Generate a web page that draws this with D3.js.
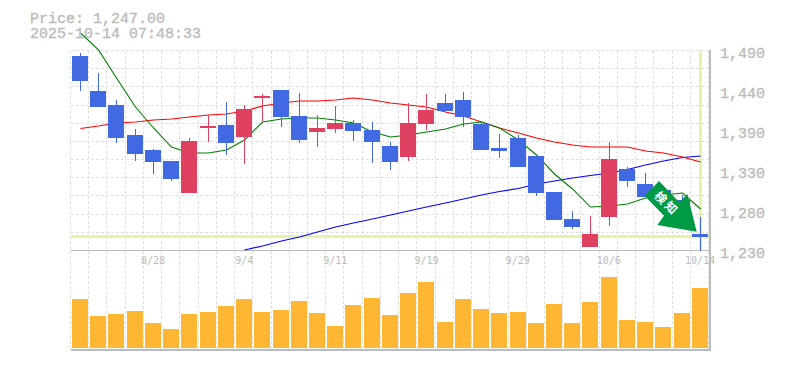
<!DOCTYPE html>
<html>
<head>
<meta charset="utf-8">
<script src="https://cdn.jsdelivr.net/npm/d3@7"></script>
<style>
  html, body { margin: 0; padding: 0; background: #fff; }
  svg { display: block; }
  text { font-family: "Liberation Mono", monospace; fill: #bbb; }
  .heavy { stroke: #bbb; stroke-width: 0.35px; }
</style>
</head>
<body>
<svg id="chart" width="785" height="370"></svg>
<script>
const dates = ["8/22","8/25","8/26","8/27","8/28","8/29","9/1","9/2","9/3","9/4","9/5","9/8","9/9","9/10","9/11","9/12","9/16","9/17","9/18","9/19","9/22","9/24","9/25","9/26","9/29","9/30","10/1","10/2","10/3","10/6","10/7","10/8","10/9","10/10","10/14"];
const dateLabels = ["8/28","9/4","9/11","9/19","9/29","10/6","10/14"];

const opens = [1484,1438,1419,1380,1360,1345,1303,1389,1393,1377,1428,1439,1405,1383,1387,1395,1386,1365,1350,1394,1422,1426,1394,1362,1376,1352,1304,1269,1232,1271,1335,1315,1307,1294,1249];
const highs = [1488,1461,1426,1387,1361,1345,1376,1406,1423,1419,1434,1439,1435,1406,1418,1399,1397,1370,1422,1434,1434,1436,1397,1381,1379,1352,1304,1279,1272,1370,1337,1329,1312,1300,1271];
const lows = [1438,1416,1369,1345,1328,1319,1303,1370,1353,1341,1398,1390,1369,1364,1382,1372,1342,1333,1345,1386,1411,1390,1360,1349,1337,1299,1267,1255,1232,1259,1311,1298,1290,1265,1226];
const closes = [1451,1416,1376,1354,1344,1321,1372,1391,1369,1414,1431,1403,1373,1389,1395,1385,1370,1344,1395,1412,1411,1403,1360,1358,1337,1303,1267,1258,1249,1348,1319,1298,1296,1274,1245];

const maShort = [1514.1,1491.7,1454.7,1416.4,1388.7,1363.6,1355.7,1355.7,1359.7,1372.9,1396.6,1400.6,1401.9,1401.9,1399.3,1395.3,1383.4,1376.8,1379.5,1383.4,1387.4,1394,1396.6,1388.7,1372.9,1353.1,1328,1308.2,1284.4,1285.7,1288.4,1296.3,1300.3,1302.9,1281.8];
const maMid = [1388,1391.3,1395.3,1396.6,1399.3,1400.6,1403.2,1405.9,1407.2,1411.1,1417.7,1421.7,1424.3,1424.3,1425.7,1428.3,1425.7,1421.7,1419,1416.4,1409.8,1404.5,1396.6,1388.7,1382.1,1375.5,1370.2,1366.3,1363.6,1363.6,1363.6,1358.3,1355.7,1350.4,1343.8];
const maLong = [null,null,null,null,null,null,null,null,null,1227.7,1233,1239.5,1244.8,1251.4,1258,1263.3,1268.6,1273.9,1279.1,1284.4,1289.7,1294.9,1300.3,1304.9,1308.8,1314.8,1318.7,1322.7,1326,1329.3,1333.9,1339.9,1345.1,1349.8,1351.7];

const volumes = [49000,32000,34000,37000,25000,19000,34000,36000,42000,49000,36000,38000,47000,35000,22000,43000,50000,33000,55000,66000,26000,49000,39000,35000,36000,25000,44000,25000,46000,71000,28000,26000,21000,35000,60000];

const priceTicks = [1227,1279.8,1332.6,1385.4,1438.2,1491];
const currentPrice = 1247;

const left = 70.5, right = 708.6, plotTop = 50.5, plotBottom = 250.5, volBottom = 348;
const upColor = "#e04060", downColor = "#4169e1", bandColor = "#e4f5aa", gridColor = "#e0e0e0", axisColor = "#bbb";

const svg = d3.select("#chart");
const x = d3.scaleBand().domain(dates).range([left, right]);
const y = d3.scaleLinear().domain([1227, 1491]).range([plotBottom, plotTop]);
const yVol = d3.scaleLinear().domain([0, 98000]).range([volBottom, 250]);

const barX = (d) => Math.round(x(d) + 1.5);
const mid = (d) => barX(d) + 8;

// grid
const grid = svg.append("g").attr("stroke", gridColor).attr("stroke-dasharray", "3,2").attr("shape-rendering", "crispEdges");
grid.selectAll(".v").data(dates).join("line")
  .attr("x1", (d) => Math.floor(x(d)) + 0.5).attr("x2", (d) => Math.floor(x(d)) + 0.5)
  .attr("y1", plotTop).attr("y2", 350);
grid.append("line").attr("x1", right).attr("x2", right).attr("y1", plotTop).attr("y2", 350);
grid.selectAll(".h").data(d3.range(0, 11)).join("line")
  .attr("x1", left).attr("x2", right)
  .attr("y1", (i) => Math.floor(plotTop + (i * 200) / 11) + 0.5)
  .attr("y2", (i) => Math.floor(plotTop + (i * 200) / 11) + 0.5);

// current price / latest date bands
svg.append("rect").attr("x", left).attr("width", 709 - left).attr("y", Math.round(y(currentPrice))).attr("height", 3).attr("fill", bandColor);
svg.append("rect").attr("x", mid("10/14") - 1).attr("width", 3).attr("y", plotTop).attr("height", plotBottom - plotTop).attr("fill", bandColor);

// frame
const frame = svg.append("g").attr("stroke", axisColor).attr("shape-rendering", "crispEdges");
frame.append("line").attr("x1", left).attr("x2", 711).attr("y1", 250.5).attr("y2", 250.5);
frame.append("line").attr("x1", left).attr("x2", 711).attr("y1", 350).attr("y2", 350).attr("stroke-width", 2);
frame.append("line").attr("x1", 710).attr("x2", 710).attr("y1", 50).attr("y2", 351).attr("stroke-width", 2);

// moving averages
const line = d3.line().defined((d) => d[1] != null).x((d) => mid(d[0]) + 0.5).y((d) => y(d[1]));
[[maLong, "#0000ff"], [maMid, "#ff0000"], [maShort, "#008000"]].forEach(([vals, color]) => {
  svg.append("path")
    .attr("d", line(dates.map((d, i) => [d, vals[i]])))
    .attr("fill", "none").attr("stroke", color).attr("stroke-width", 1.1);
});

// candles
const candles = svg.append("g").attr("shape-rendering", "crispEdges");
const cData = dates.map((d, i) => ({ d, o: opens[i], h: highs[i], l: lows[i], c: closes[i] }));
const cColor = (e) => (e.c >= e.o ? upColor : downColor);
candles.selectAll(".wick").data(cData).join("rect")
  .attr("x", (e) => mid(e.d)).attr("width", 1)
  .attr("y", (e) => Math.round(y(e.h)))
  .attr("height", (e) => Math.round(y(e.l)) - Math.round(y(e.h)))
  .attr("fill", cColor);
candles.selectAll(".body").data(cData).join("rect")
  .attr("x", (e) => barX(e.d)).attr("width", 16)
  .attr("y", (e) => Math.round(y(Math.max(e.o, e.c))))
  .attr("height", (e) => Math.round(y(Math.min(e.o, e.c))) - Math.round(y(Math.max(e.o, e.c))))
  .attr("fill", cColor);

// volume
svg.append("g").attr("shape-rendering", "crispEdges").selectAll("rect").data(volumes).join("rect")
  .attr("x", (v, i) => barX(dates[i])).attr("width", 16)
  .attr("y", (v) => Math.round(yVol(v)))
  .attr("height", (v) => volBottom - Math.round(yVol(v)))
  .attr("fill", "#ffb733");

// axes
svg.append("g")
  .attr("transform", `translate(708,0)`)
  .call(d3.axisRight(y).tickValues(priceTicks).tickSize(0).tickPadding(12)
    .tickFormat((v) => d3.format(",")(Math.round(v / 10) * 10)))
  .call((g) => g.select(".domain").remove())
  .selectAll("text").attr("class", "heavy").attr("font-size", 15).attr("dy", "0.45em").style("font-family", '"Liberation Mono", monospace');

svg.append("g")
  .attr("transform", `translate(0.5,${plotBottom})`)
  .call(d3.axisBottom(x).tickValues(dateLabels).tickSize(0).tickPadding(6))
  .call((g) => g.select(".domain").remove())
  .selectAll("text").attr("font-size", 10).style("font-family", '"DejaVu Sans Mono", monospace');

// header
svg.append("text").attr("class", "heavy").attr("x", 30).attr("y", 23).attr("font-size", 15).text("Price: 1,247.00");
svg.append("text").attr("class", "heavy").attr("x", 30).attr("y", 38).attr("font-size", 15).text("2025-10-14 07:48:33");

// arrow badge
const arrow = svg.append("g");
arrow.append("polygon")
  .attr("points", "659,181 644.7,196 664,215.7 657.3,225 696.7,231.7 687.3,194 679.3,202.3")
  .attr("fill", "#009944");
arrow.selectAll("text").data([["検", 660.7, 197.7], ["知", 671, 207.7]]).join("text")
  .attr("transform", (t) => `translate(${t[1]},${t[2]}) rotate(45)`)
  .attr("text-anchor", "middle").attr("dy", "0.36em")
  .attr("font-size", 12).attr("font-weight", 700)
  .style("font-family", '"Noto Sans CJK JP", sans-serif').style("fill", "#fff")
  .text((t) => t[0]);
</script>
</body>
</html>
